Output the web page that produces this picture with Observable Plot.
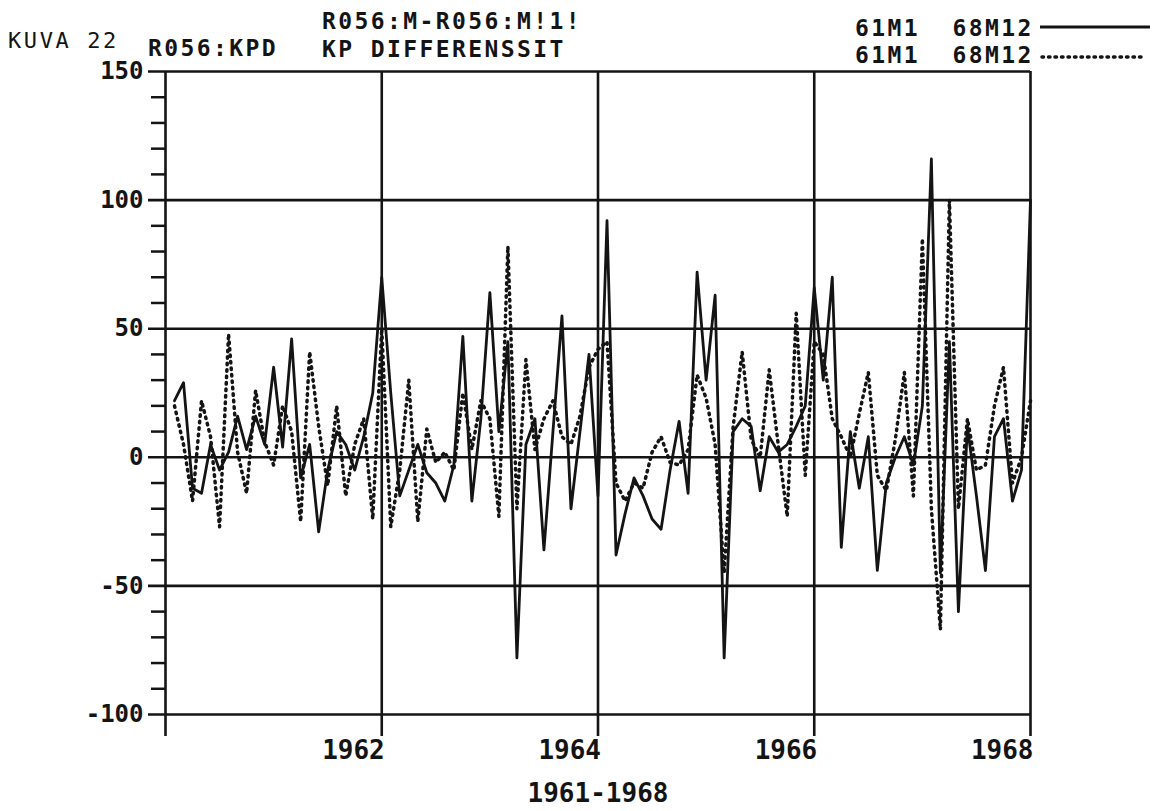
<!DOCTYPE html>
<html><head><meta charset="utf-8">
<script src="https://cdn.jsdelivr.net/npm/d3@7"></script>
<script src="https://cdn.jsdelivr.net/npm/@observablehq/plot@0.6"></script>
<style>
body{margin:0;background:#fff;}
#wrap{position:relative;width:1157px;height:811px;overflow:hidden;font-family:"DejaVu Sans Mono",monospace;color:#141414;background:#fff;}
#chart{position:absolute;left:0;top:0;}
.t{position:absolute;white-space:pre;font-size:23px;line-height:23px;font-weight:bold;letter-spacing:2.4px;}
#legend{position:absolute;left:0;top:0;}
</style></head><body>
<div id="wrap">
<div id="chart"></div>
<div class="t" style="left:8px;top:30px;font-size:22px;line-height:22px;font-weight:normal;letter-spacing:2.6px">KUVA 22</div>
<div class="t" style="left:148px;top:37px">R056:KPD</div>
<div class="t" style="left:322px;top:10px">R056:M-R056:M!1!</div>
<div class="t" style="left:322px;top:38px">KP DIFFERENSSIT</div>
<div class="t" style="left:855px;top:17px">61M1  68M12</div>
<div class="t" style="left:855px;top:44px">61M1  68M12</div>
<svg id="legend" width="1157" height="80">
  <line x1="1040" x2="1150" y1="27" y2="27" stroke="#141414" stroke-width="2.8"/>
  <line x1="1042" x2="1143" y1="57" y2="57" stroke="#141414" stroke-width="3.5" stroke-dasharray="1.5,5" stroke-linecap="round"/>
</svg>
</div>
<script>
// Monthly series 61M1 .. 68M12 (96 months)
const startYear = 1961;
const solidSeries = [
  22, 29, -12, -14, 5, -5, 2, 16, 3, 16, 5, 35,
  4, 46, -8, 5, -29, -5, 10, 5, -5, 8, 25, 70,
  25, -15, -5, 5, -6, -10, -17, -3, 47, -17, 15, 64,
  10, 45, -78, 5, 15, -36, 10, 55, -20, 10, 40, -15,
  92, -38, -22, -8, -15, -24, -28, -5, 14, -14, 72, 30,
  63, -78, 10, 15, 12, -13, 8, 2, 5, 12, 20, 66,
  30, 70, -35, 10, -12, 8, -44, -10, 0, 8, -3, 20,
  116, -45, 45, -60, 12, -15, -44, 8, 15, -17, -5, 100
];
const dottedSeries = [
  20, 5, -17, 22, 8, -27, 48, 2, -14, 26, 6, -3,
  20, 10, -25, 41, 12, -11, 20, -15, 5, 15, -24, 50,
  -27, -5, 30, -25, 11, -2, 2, -5, 25, 3, 22, 15,
  -23, 82, -20, 38, 3, 15, 22, 8, 5, 16, 35, 42,
  45, -10, -17, -10, -12, 2, 8, -2, -3, 3, 32, 23,
  5, -45, 12, 41, 7, 0, 34, 5, -23, 56, -7, 45,
  40, 15, 8, 0, 17, 33, -7, -13, 7, 33, -15, 85,
  -20, -67, 100, -20, 15, -5, -3, 20, 35, -10, 0, 22
];
const yMajorTicks = [-100, -50, 0, 50, 100, 150];
const yMinorTicks = [-90, -80, -70, -60, -40, -30, -20, -10, 10, 20, 30, 40, 60, 70, 80, 90, 110, 120, 130, 140];
const xGridLines = [1961, 1963, 1965, 1967, 1969];
const xTickPositions = [1963, 1965, 1967, 1969];
const xTickLabels = ["1962", "1964", "1966", "1968"];
const xAxisTitle = "1961-1968";

const rows = solidSeries.map((v, i) => ({t: startYear + (i + 1) / 12, solid: v, dotted: dottedSeries[i]}));
const labelOf = new Map(xTickPositions.map((p, i) => [p, xTickLabels[i]]));
const ink = "#141414";

const chart = Plot.plot({
  width: 1157,
  height: 811,
  marginLeft: 165,
  marginRight: 127,
  marginTop: 71,
  marginBottom: 97,
  x: {domain: [1961, 1969], axis: null},
  y: {domain: [-100, 150], axis: null},
  style: {background: "transparent", fontFamily: "DejaVu Sans Mono", color: ink, overflow: "visible"},
  marks: [
    Plot.ruleY(yMajorTicks, {stroke: ink, strokeWidth: 2.6, insetLeft: -17}),
    Plot.ruleX(xGridLines, {stroke: ink, strokeWidth: 2.6, insetBottom: -22}),
    Plot.axisY(yMinorTicks, {label: null, tickSize: 14, tickFormat: () => "", stroke: ink, strokeWidth: 2.5}),
    Plot.axisY(yMajorTicks, {label: null, tickSize: 0, tickPadding: 22, tickFormat: d => String(d), fontSize: 24, fontWeight: "bold", fill: ink}),
    Plot.axisX(xTickPositions, {label: null, tickSize: 0, tickPadding: 26, tickFormat: d => labelOf.get(d), textAnchor: "end", dx: 3, fontSize: 26, fontWeight: "bold", fill: ink}),
    Plot.text([xAxisTitle], {frameAnchor: "bottom", dy: 79, lineAnchor: "middle", fontSize: 26, fontWeight: "bold", fill: ink}),
    Plot.line(rows, {x: "t", y: "dotted", stroke: ink, strokeWidth: 3.5, strokeDasharray: "1.5,5", strokeLinecap: "round"}),
    Plot.line(rows, {x: "t", y: "solid", stroke: ink, strokeWidth: 2.8})
  ]
});
document.getElementById("chart").appendChild(chart);
</script>
</body></html>
